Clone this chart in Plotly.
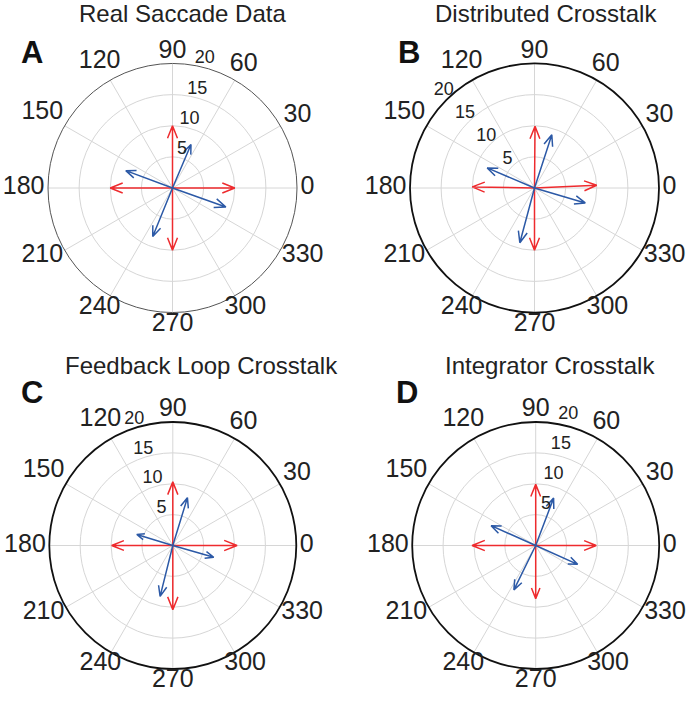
import numpy as np
import plotly.graph_objects as go

W, H = 688, 701

titles = ["Real Saccade Data", "Distributed Crosstalk", "Feedback Loop Crosstalk", "Integrator Crosstalk"]
letters = ["A", "B", "C", "D"]

# target (red) vectors: magnitude, angle(deg)
red_mag = {
    "A": [10.0, 10.0, 10.0, 10.0],
    "B": [10.0, 9.9, 10.0, 10.0],
    "C": [10.4, 10.3, 9.9, 10.4],
    "D": [9.8, 9.9, 10.3, 8.6],
}
red_ang = {
    "A": [0, 90, 180, 270],
    "B": [2.5, 89.5, 179, 270],
    "C": [0, 90, 180, 270],
    "D": [0, 90, 180, 270],
}
# produced (blue) vectors
blue_mag = {
    "A": [7.6, 8.0, 8.4, 9.1],
    "B": [9.0, 8.25, 9.1, 8.5],
    "C": [8.1, 6.1, 8.5, 6.9],
    "D": [8.2, 7.9, 8.0, 7.45],
}
blue_ang = {
    "A": [67, 159.6, 247.8, 340.4],
    "B": [72, 157, 255, 343.6],
    "C": [73, 163, 256, 344],
    "D": [69.3, 156, 243.8, 335.8],
}

ang_ticks = list(range(0, 360, 30))
ang_labels = [str(a) for a in ang_ticks]
rad_ticks = [5, 10, 15, 20]
rad_labels = ["5", "10", "15", "20"]
RMAX = 20

# panel geometry (pixels): center x, center y, radius
geom = {"A": (172.5, 188, 124.5), "B": (534.5, 188, 124.5),
        "C": (172.8, 545.5, 123.5), "D": (535.7, 545.5, 123.5)}
RLAB = 152  # px radius of the (invisible) label layer
rad_angle = {"A": 76, "B": 133, "C": 107, "D": 76}   # direction of radial tick labels
rad_pad = {"A": 8.5, "B": 8.5, "C": 8, "D": 11.5}     # px beyond the ring
edge = {"A": ("#555555", 1), "B": ("#111111", 1.8), "C": ("#111111", 1.8), "D": ("#111111", 1.8)}
title_pos = {"A": (182.5, 14), "B": (545.6, 14), "C": (201, 365), "D": (550, 365)}
letter_pos = {"A": (32, 52), "B": (409, 52), "C": (32, 392), "D": (407, 392)}

ANG_FS = 25
RAD_FS = 18
ANG_PAD = 3.5
LOW_LIFT = 8.0  # px lift of lower diagonal labels

# MATLAB compass arrow template
tx = np.array([0, 1, 0.8, 1, 0.8])
ty = np.array([0, 0, 0.08, 0, -0.08])


def arrows(mags, angs):
    rr, tt = [], []
    for m, a in zip(mags, angs):
        th = np.deg2rad(a)
        x = m * (tx * np.cos(th) - ty * np.sin(th))
        y = m * (tx * np.sin(th) + ty * np.cos(th))
        r = np.hypot(x, y)
        t = np.rad2deg(np.arctan2(y, x))
        t[0] = a
        rr += list(r) + [None]
        tt += list(t) + [None]
    return rr, tt


def angular_label_pos(R):
    rs, ts = [], []
    for a, lab in zip(ang_ticks, ang_labels):
        th = np.deg2rad(a)
        w = len(lab) * 0.556 * ANG_FS
        h = 0.68 * ANG_FS
        ext = 0.5 * w * abs(np.cos(th)) + 0.5 * h * abs(np.sin(th))
        rp = R + ANG_PAD + ext
        x, y = rp * np.cos(th), rp * np.sin(th)
        if np.sin(th) < -1e-9:
            y += LOW_LIFT * abs(np.sin(2 * th))
        rs.append(RMAX * np.hypot(x, y) / R)
        ts.append(np.rad2deg(np.arctan2(y, x)))
    return rs, ts


def dom_for(cx, cy, R):
    return dict(x=[(cx - R) / W, (cx + R) / W], y=[1 - (cy + R) / H, 1 - (cy - R) / H])


fig = go.Figure()
layout = dict(width=W, height=H, margin=dict(l=0, r=0, t=0, b=0),
              paper_bgcolor="white", plot_bgcolor="white", showlegend=False,
              font=dict(family="Liberation Sans, Arial, sans-serif", color="#222222"))
annotations = []
hidden_axis = dict(showline=False, showgrid=False, showticklabels=False, ticks="")

for i, k in enumerate(letters):
    pname = "polar" if i == 0 else f"polar{i+1}"
    lname = f"polar{i+5}"
    cx, cy, R = geom[k]
    lc, lw = edge[k]
    layout[pname] = dict(
        domain=dom_for(cx, cy, R), bgcolor="white",
        radialaxis=dict(range=[0, RMAX], tickvals=rad_ticks, showticklabels=False,
                        showline=False, ticks="", angle=rad_angle[k],
                        gridcolor="#d6d6d6", gridwidth=1),
        angularaxis=dict(tickvals=ang_ticks, showticklabels=False, direction="counterclockwise",
                         rotation=0, showline=True, linecolor=lc, linewidth=lw, ticks="",
                         gridcolor="#d6d6d6", gridwidth=1),
    )
    # transparent label layer, same centre, larger radius, same data scale
    layout[lname] = dict(
        domain=dom_for(cx, cy, RLAB), bgcolor="rgba(0,0,0,0)",
        radialaxis=dict(range=[0, RMAX * RLAB / R], **hidden_axis),
        angularaxis=dict(direction="counterclockwise", rotation=0, **hidden_axis),
    )
    rr, tt = arrows(red_mag[k], red_ang[k])
    fig.add_trace(go.Scatterpolar(r=rr, theta=tt, mode="lines", subplot=pname,
                                  line=dict(color="#ee2b2e", width=1.5), hoverinfo="skip"))
    rr, tt = arrows(blue_mag[k], blue_ang[k])
    fig.add_trace(go.Scatterpolar(r=rr, theta=tt, mode="lines", subplot=pname,
                                  line=dict(color="#2c59a6", width=1.5), hoverinfo="skip"))
    # radial tick labels
    pad_u = RMAX * rad_pad[k] / R
    fig.add_trace(go.Scatterpolar(r=[t + pad_u for t in rad_ticks], theta=[rad_angle[k]] * len(rad_ticks),
                                  text=rad_labels, mode="text", subplot=lname,
                                  textposition="middle center", cliponaxis=False,
                                  textfont=dict(size=RAD_FS, color="#222222"), hoverinfo="skip"))
    # angular tick labels
    ar, at = angular_label_pos(R)
    fig.add_trace(go.Scatterpolar(r=ar, theta=at,
                                  text=ang_labels, mode="text", subplot=lname,
                                  textposition="middle center", cliponaxis=False,
                                  textfont=dict(size=ANG_FS, color="#222222"), hoverinfo="skip"))
    x, y = title_pos[k]
    annotations.append(dict(text=titles[i], x=x / W, y=1 - y / H, xref="paper", yref="paper",
                            showarrow=False, font=dict(size=24, color="#222222"),
                            xanchor="center", yanchor="middle"))
    x, y = letter_pos[k]
    annotations.append(dict(text=f"<b>{k}</b>", x=x / W, y=1 - y / H, xref="paper", yref="paper",
                            showarrow=False, font=dict(size=31, color="#111111"),
                            xanchor="center", yanchor="middle"))

layout["annotations"] = annotations
fig.update_layout(**layout)
fig.write_html("out.html", config={"displayModeBar": False},
               post_script="document.body.style.margin='0px';")
